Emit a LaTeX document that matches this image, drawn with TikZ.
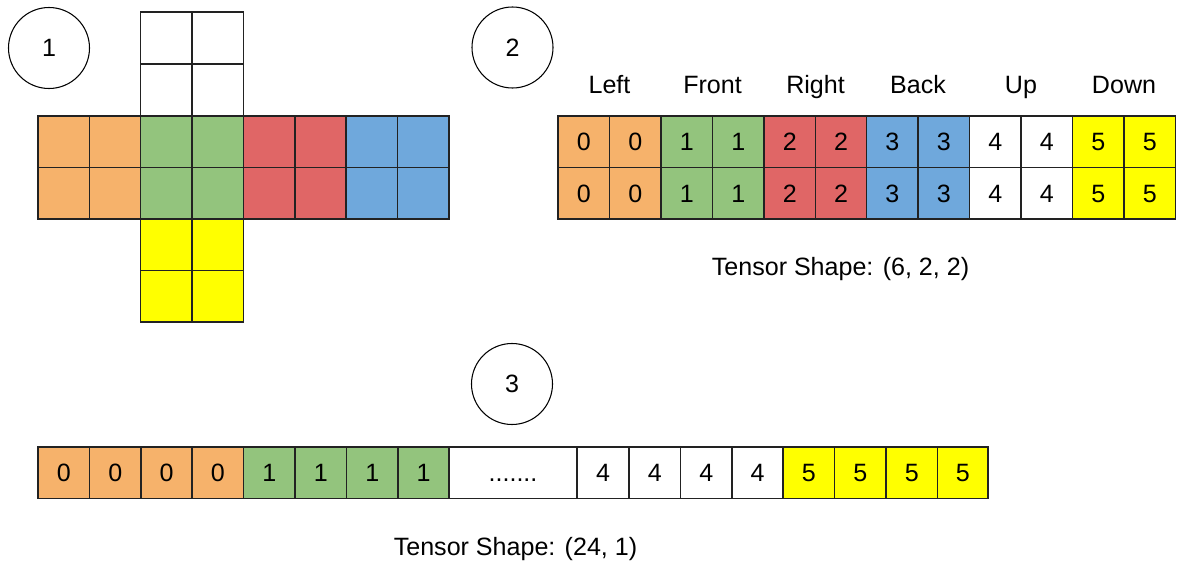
\documentclass[tikz,border=0pt]{standalone}
\usepackage{fontspec}
\setmainfont{Liberation Sans}
\definecolor{cOrange}{HTML}{F6B26B}
\definecolor{cGreen}{HTML}{93C47D}
\definecolor{cRed}{HTML}{E06666}
\definecolor{cBlue}{HTML}{6FA8DC}
\definecolor{cYellow}{HTML}{FFFF00}
\definecolor{cLine}{HTML}{222222}
\begin{document}
\begin{tikzpicture}[x=0.75pt,y=-0.75pt,
  cellline/.style={draw=cLine,line width=1.1pt},
  lbl/.style={font=\fontsize{18.8}{22}\selectfont,text=black,inner sep=0pt,text height=0.75em,text depth=0.25em},
  numcircle/.style={circle,draw=black,line width=0.8pt,minimum size=60.75pt,inner sep=0pt,font=\fontsize{18.8}{22}\selectfont}]
\useasboundingbox (0,0) rectangle (1178,563);

% ---------- Part 1: cube net ----------
\node[numcircle] (c1) at (49,48) {1};
\foreach \xa/\xb in {140.5/192,192/243.5}{
  \foreach \ya/\yb in {12/64,64/116}{
    \path[cellline,fill=white] (\xa,\ya) rectangle (\xb,\yb);
  }
  \foreach \ya/\yb in {219/270.5,270.5/322}{
    \path[cellline,fill=cYellow] (\xa,\ya) rectangle (\xb,\yb);
  }
}
\foreach \xa/\xb/\c in {38/89.5/cOrange,89.5/140.5/cOrange,140.5/192/cGreen,192/243.5/cGreen,243.5/295/cRed,295/346/cRed,346/397.5/cBlue,397.5/449/cBlue}{
  \foreach \ya/\yb in {116/167.5,167.5/219}{
    \path[cellline,fill=\c] (\xa,\ya) rectangle (\xb,\yb);
  }
}

% ---------- Part 2: (6,2,2) ----------
\node[numcircle] (c2) at (512.5,47.5) {2};
\foreach \t/\x [count=\k] in {Left/609.5,Front/712.5,Right/815.5,Back/918,Up/1021,Down/1124}{
  \node[lbl] (face\k) at (\x,90) {\t};
}
\foreach \xa/\xb/\c/\t [count=\k] in {558/609.5/cOrange/0,609.5/661/cOrange/0,661/712.5/cGreen/1,712.5/764/cGreen/1,764/815.5/cRed/2,815.5/866.5/cRed/2,866.5/918/cBlue/3,918/969.5/cBlue/3,969.5/1021/white/4,1021/1072.5/white/4,1072.5/1124/cYellow/5,1124/1175.5/cYellow/5}{
  \foreach \ya/\yb [count=\r] in {116/167.5,167.5/219}{
    \path[cellline,fill=\c] (\xa,\ya) rectangle (\xb,\yb);
    \node[lbl] (t\k r\r) at ({(\xa+\xb)/2},{(\ya+\yb)/2+5.5}) {\t};
  }
}
\node[lbl] (shape2) at (840.5,272) {Tensor Shape: (6, 2, 2)};

% ---------- Part 3: (24,1) ----------
\node[numcircle] (c3) at (512,384) {3};
\foreach \xa/\xb/\c/\t [count=\k] in {38/89.5/cOrange/0,89.5/141/cOrange/0,141/192/cOrange/0,192/243.5/cOrange/0,243.5/295/cGreen/1,295/346.5/cGreen/1,346.5/398/cGreen/1,398/449/cGreen/1,449/577/white/{.......},577/629/white/4,629/680.5/white/4,680.5/732/white/4,732/783/white/4,783/834.5/cYellow/5,834.5/886/cYellow/5,886/937.5/cYellow/5,937.5/988/cYellow/5}{
  \path[cellline,fill=\c] (\xa,447) rectangle (\xb,498.5);
  \node[lbl] (f\k) at ({(\xa+\xb)/2},478.5) {\t};
}
\node[lbl] (shape3) at (515.5,552) {Tensor Shape: (24, 1)};
\end{tikzpicture}
\end{document}
